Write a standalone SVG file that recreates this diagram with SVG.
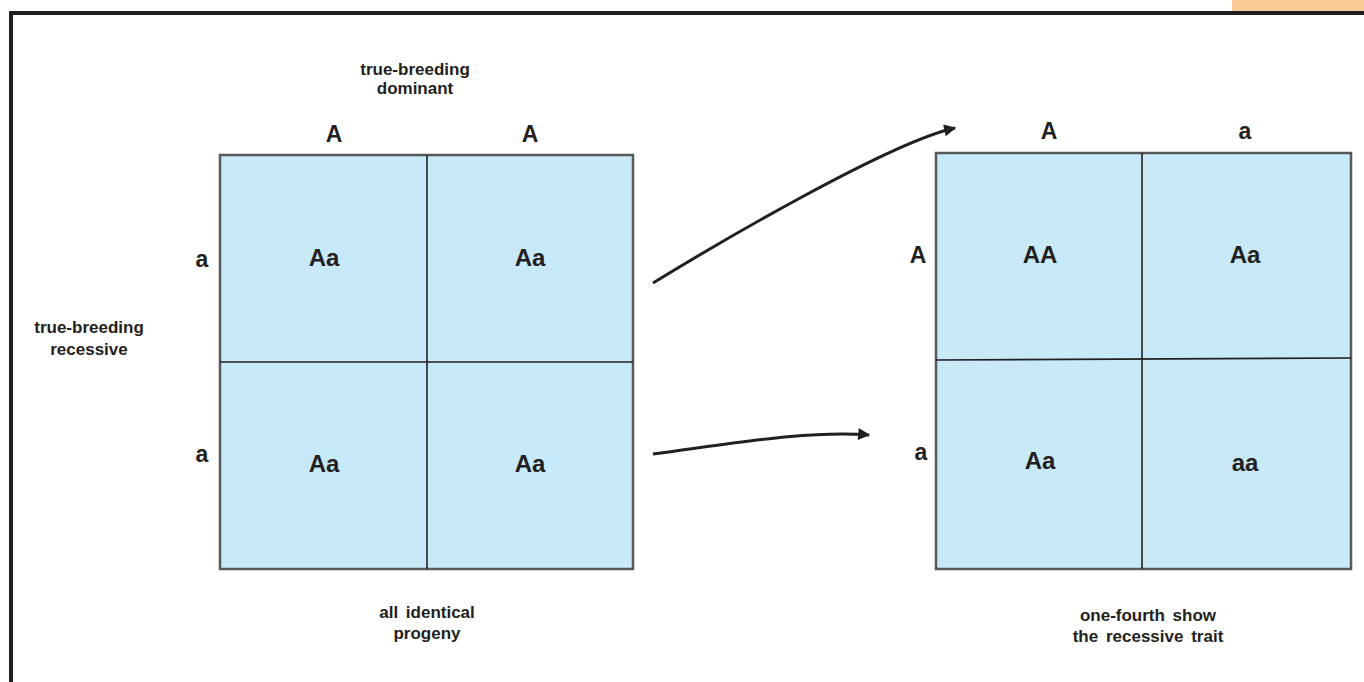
<svg xmlns="http://www.w3.org/2000/svg" width="1364" height="682" viewBox="0 0 1364 682">
<style>
.lbl{font-family:"Liberation Sans",Arial,sans-serif;font-weight:bold;fill:#231f20;text-anchor:middle}
.cap{font-size:17px;word-spacing:3px}
.hdr{font-size:23px}
.cell{font-size:24px}
.outer{fill:#c7e9f8;stroke:#58595b;stroke-width:2.5}
.div{stroke:#231f20;stroke-width:1.6;fill:none}
.arrow{stroke:#231f20;stroke-width:3;fill:none;marker-end:url(#ah)}
</style>
<defs>
<marker id="ah" viewBox="0 0 10 10" refX="9" refY="5" markerWidth="6" markerHeight="4" markerUnits="strokeWidth" orient="auto">
<path d="M0,0 L10,5 L0,10 z" fill="#231f20"/>
</marker>
</defs>
<rect width="1364" height="682" fill="#ffffff"/>
<g id="frame">
<rect x="1232" y="0" width="132" height="12" fill="#f9cb96"/>
<line x1="9" y1="13" x2="1364" y2="13" stroke="#231f20" stroke-width="4"/>
<line x1="11" y1="11" x2="11" y2="682" stroke="#231f20" stroke-width="4"/>
</g>
<g id="left-parent-dominant">
<text class="lbl cap" x="415" y="75">true-breeding</text>
<text class="lbl cap" x="415" y="94">dominant</text>
</g>
<g id="left-parent-recessive">
<text class="lbl cap" x="89" y="333">true-breeding</text>
<text class="lbl cap" x="89" y="355">recessive</text>
</g>
<g id="grid-left">
<rect class="outer" x="220" y="155" width="413" height="414"/>
<line class="div" x1="427" y1="155" x2="427" y2="569"/>
<line class="div" x1="220" y1="362" x2="633" y2="362"/>
<text class="lbl hdr" x="334" y="142">A</text>
<text class="lbl hdr" x="530" y="142">A</text>
<text class="lbl hdr" x="202" y="267">a</text>
<text class="lbl hdr" x="202" y="462">a</text>
<text class="lbl cell" x="324" y="266">Aa</text>
<text class="lbl cell" x="530" y="266">Aa</text>
<text class="lbl cell" x="324" y="472">Aa</text>
<text class="lbl cell" x="530" y="472">Aa</text>
</g>
<g id="caption-left">
<text class="lbl cap" x="427" y="618">all identical</text>
<text class="lbl cap" x="427" y="639">progeny</text>
</g>
<g id="grid-right">
<rect class="outer" x="936" y="153" width="415" height="416"/>
<line class="div" x1="1142" y1="153" x2="1142" y2="569"/>
<line class="div" x1="936" y1="360" x2="1351" y2="358"/>
<text class="lbl hdr" x="1049" y="139">A</text>
<text class="lbl hdr" x="1245" y="139">a</text>
<text class="lbl hdr" x="918" y="263">A</text>
<text class="lbl hdr" x="921" y="460">a</text>
<text class="lbl cell" x="1040" y="263">AA</text>
<text class="lbl cell" x="1245" y="263">Aa</text>
<text class="lbl cell" x="1040" y="469">Aa</text>
<text class="lbl cell" x="1245" y="471">aa</text>
</g>
<g id="caption-right">
<text class="lbl cap" x="1148" y="621">one-fourth show</text>
<text class="lbl cap" x="1148" y="642">the recessive trait</text>
</g>
<g id="connectors">
<path class="arrow" d="M653,283 C715,245 890,142 955,128"/>
<path class="arrow" d="M653,454 C730,444 810,430 869,435"/>
</g>
</svg>
